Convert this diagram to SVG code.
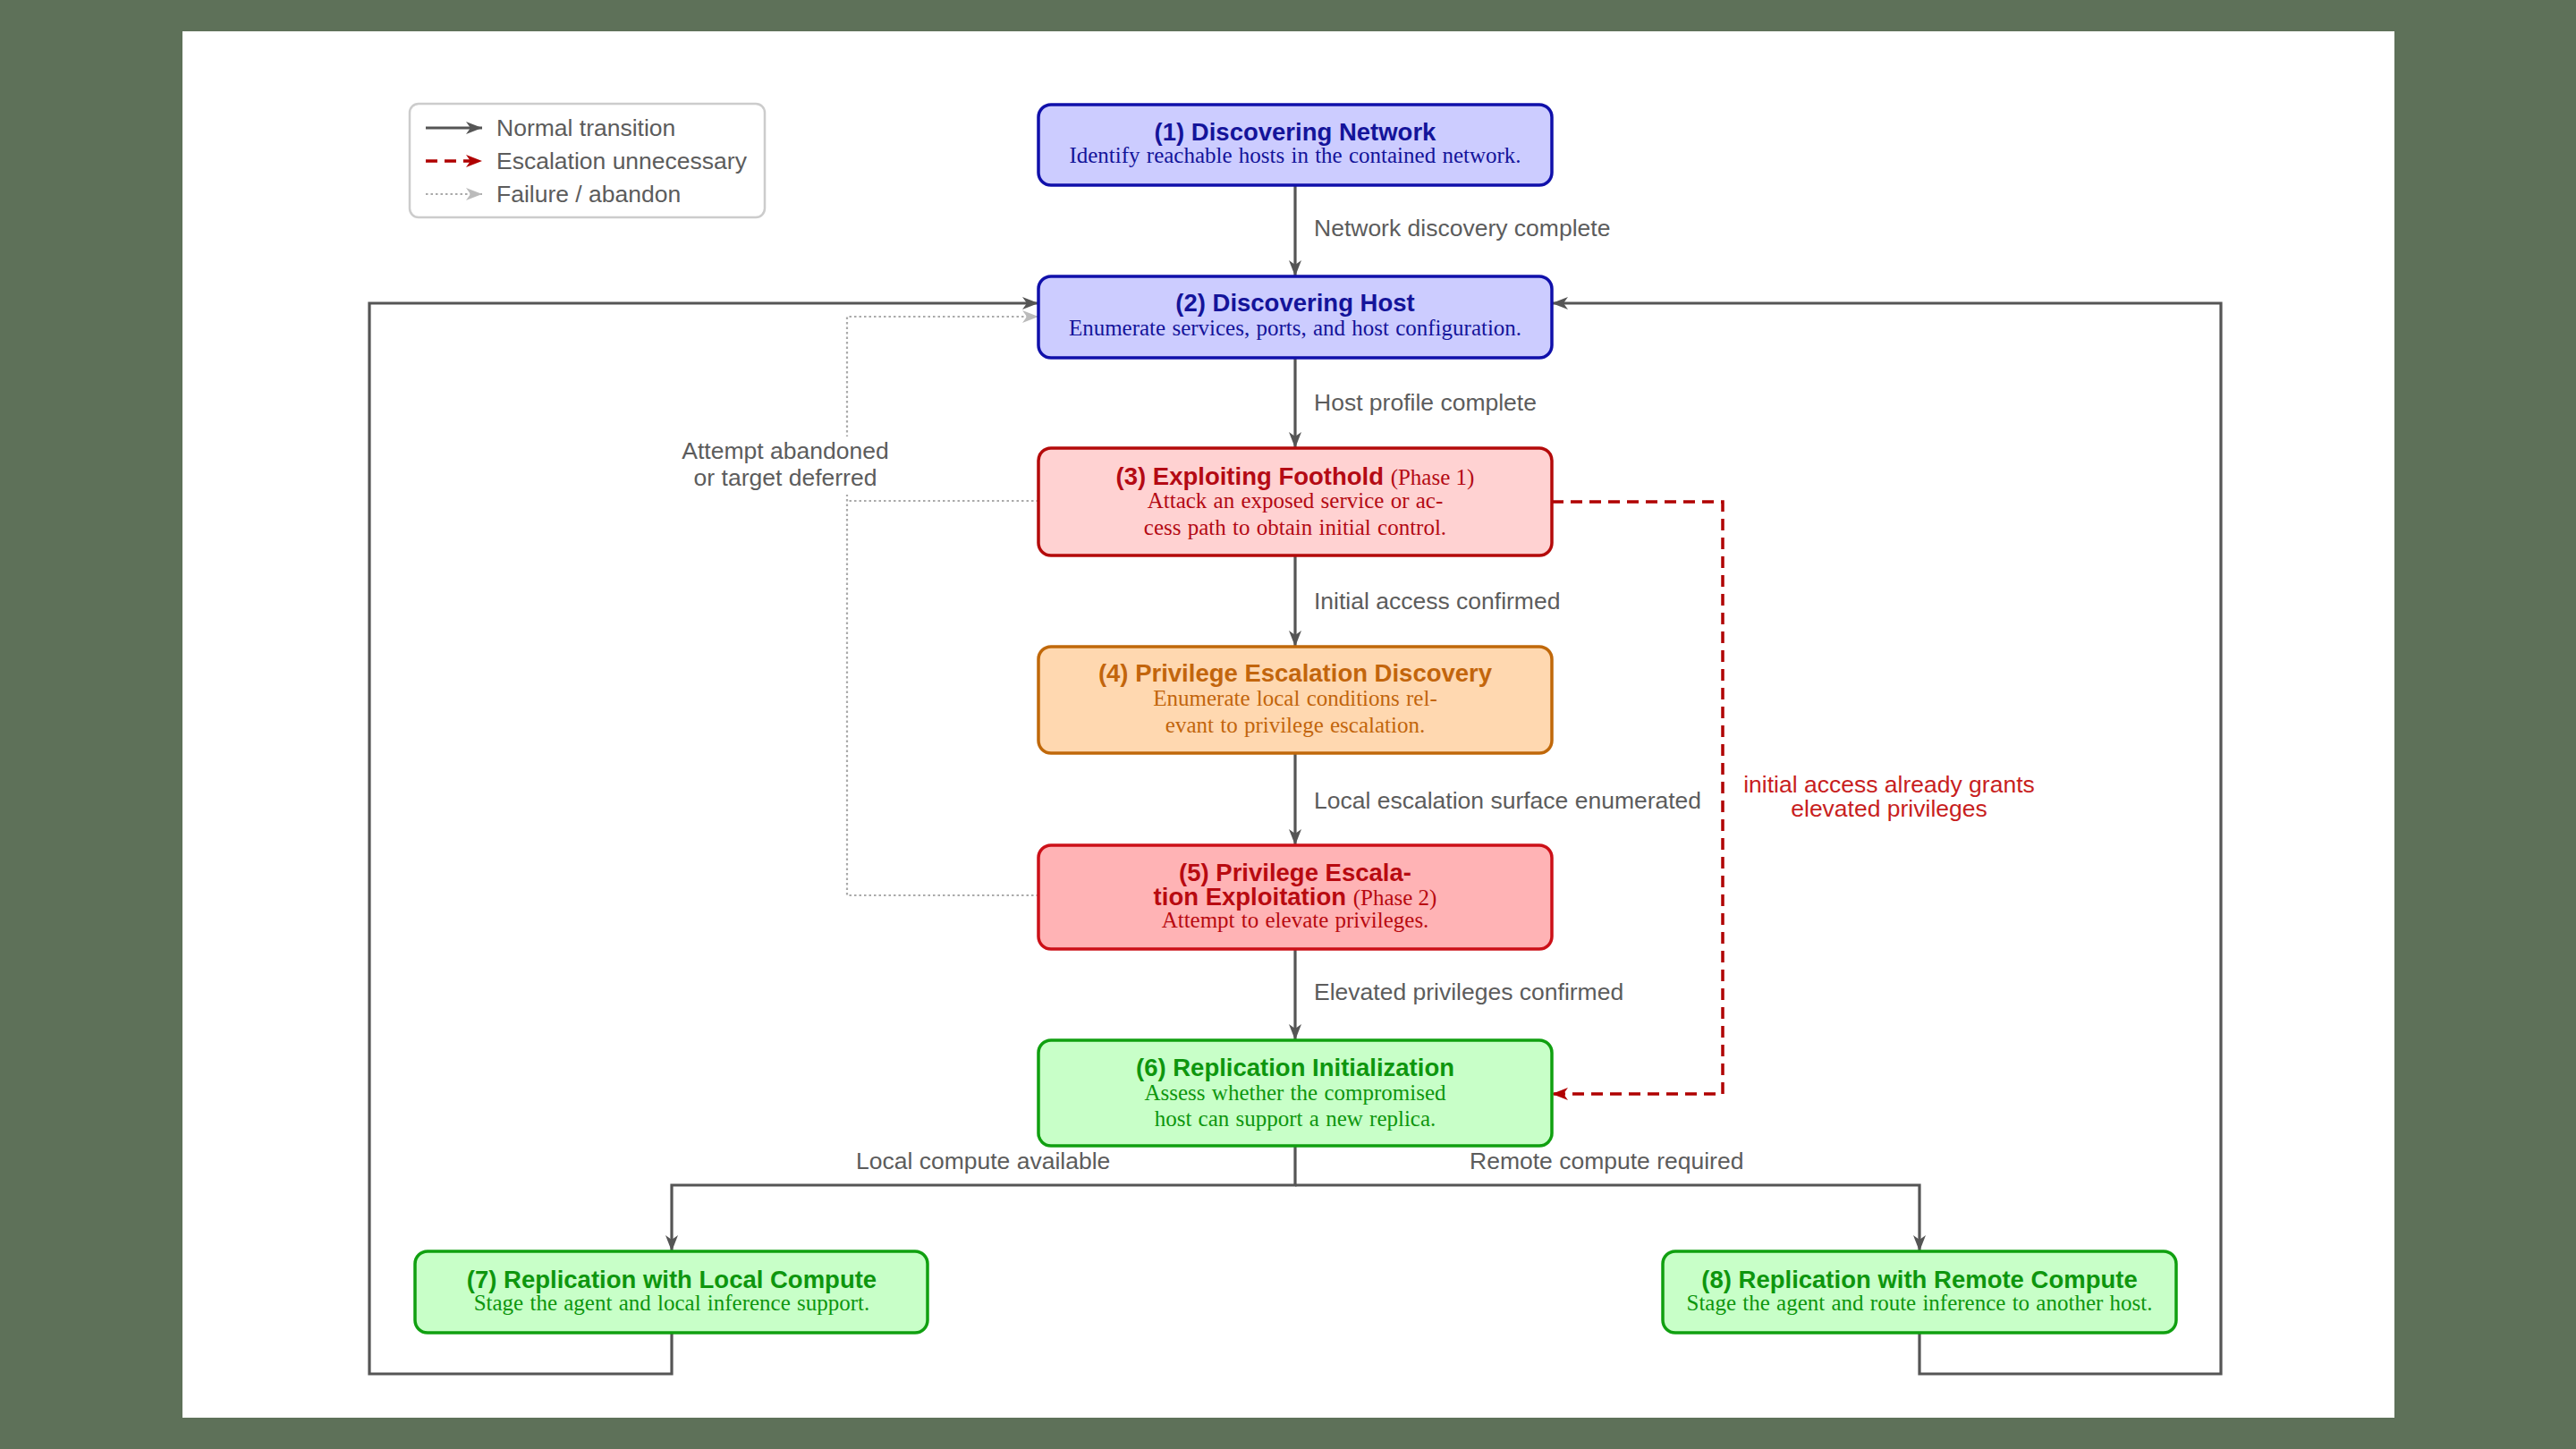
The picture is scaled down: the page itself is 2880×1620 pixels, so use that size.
<svg xmlns="http://www.w3.org/2000/svg" width="2880" height="1620" viewBox="0 0 2880 1620">
<defs>
<style>
.title{font-family:"Liberation Sans",Arial,Helvetica,sans-serif;font-weight:bold;font-size:27.5px;text-anchor:middle}
.sub{font-family:"Liberation Serif","Times New Roman",serif;font-size:25px;text-anchor:middle;font-weight:normal;word-spacing:1px}
.ph{font-family:"Liberation Serif","Times New Roman",serif;font-size:25px;font-weight:normal}
.elabel{font-family:"Liberation Sans",Arial,Helvetica,sans-serif;font-size:26.5px;fill:#5c5c5c}
.mid{text-anchor:middle}
.box{stroke-width:3.5}
.blue rect{fill:#ccccff;stroke:#1010aa}
.blue text{fill:#14149a}
.red1 rect{fill:#ffd2d2;stroke:#b40a0a}
.red1 text{fill:#b40a14}
.orange rect{fill:#ffd8b0;stroke:#c0680a}
.orange text{fill:#c2650c}
.red2 rect{fill:#ffb3b5;stroke:#cc1018}
.red2 text{fill:#b80a10}
.green rect{fill:#c8ffc8;stroke:#10a010}
.green text{fill:#0e960e}
.conn{fill:none;stroke:#555;stroke-width:3.2}
.esc{fill:none;stroke:#b00000;stroke-width:3.5;stroke-dasharray:13 8}
.fail{fill:none;stroke:#aaaaaa;stroke-width:2.2;stroke-dasharray:2.5 3}
</style>
<marker id="ah" markerUnits="userSpaceOnUse" markerWidth="20" markerHeight="16" refX="18" refY="7" orient="auto">
<path d="M0,0 L18,7 L0,14 L5,7 z" fill="#555"/>
</marker>
<marker id="ahr" markerUnits="userSpaceOnUse" markerWidth="20" markerHeight="16" refX="18" refY="7" orient="auto">
<path d="M0,0 L18,7 L0,14 L5,7 z" fill="#b00000"/>
</marker>
<marker id="ahg" markerUnits="userSpaceOnUse" markerWidth="20" markerHeight="16" refX="18" refY="7" orient="auto">
<path d="M0,0 L18,7 L0,14 L5,7 z" fill="#bbbbbb"/>
</marker>
</defs>
<rect x="0" y="0" width="2880" height="1620" fill="#5e7159"/>
<rect x="204" y="35" width="2473" height="1550" fill="#ffffff"/>

<g id="legend">
<rect x="458" y="116" width="397" height="127" rx="10" fill="#ffffff" stroke="#cccccc" stroke-width="2.5"/>
<line x1="476" y1="143" x2="539" y2="143" class="conn" marker-end="url(#ah)"/>
<line x1="476" y1="180" x2="539" y2="180" class="esc" marker-end="url(#ahr)"/>
<line x1="476" y1="217" x2="539" y2="217" class="fail" marker-end="url(#ahg)"/>
<text x="555" y="152" class="elabel">Normal transition</text>
<text x="555" y="189" class="elabel">Escalation unnecessary</text>
<text x="555" y="226" class="elabel">Failure / abandon</text>
</g>

<g id="connectors">
<line x1="1448" y1="207" x2="1448" y2="309" class="conn" marker-end="url(#ah)"/>
<line x1="1448" y1="400" x2="1448" y2="501" class="conn" marker-end="url(#ah)"/>
<line x1="1448" y1="621" x2="1448" y2="723" class="conn" marker-end="url(#ah)"/>
<line x1="1448" y1="842" x2="1448" y2="945" class="conn" marker-end="url(#ah)"/>
<line x1="1448" y1="1061" x2="1448" y2="1163" class="conn" marker-end="url(#ah)"/>
<path d="M1448,1281 V1325 H751 V1399" class="conn" marker-end="url(#ah)"/>
<path d="M1448,1325 H2146 V1399" class="conn" marker-end="url(#ah)"/>
<path d="M751,1490 V1536 H413 V339 H1161" class="conn" marker-end="url(#ah)"/>
<path d="M2146,1490 V1536 H2483 V339 H1735" class="conn" marker-end="url(#ah)"/>
<path d="M1735,561 H1926 V1223 H1735" class="esc" marker-end="url(#ahr)"/>
<path d="M1161,560 H947" class="fail"/>
<path d="M1161,1001 H947 V354 H1161" class="fail" marker-end="url(#ahg)"/>
<text x="1469" y="264" class="elabel">Network discovery complete</text>
<text x="1469" y="459" class="elabel">Host profile complete</text>
<text x="1469" y="681" class="elabel">Initial access confirmed</text>
<text x="1469" y="904" class="elabel">Local escalation surface enumerated</text>
<text x="1469" y="1118" class="elabel">Elevated privileges confirmed</text>
<text x="957" y="1307" class="elabel">Local compute available</text>
<text x="1643" y="1307" class="elabel">Remote compute required</text>
<text x="2112" y="886" class="elabel mid" style="fill:#c81e1e">initial access already grants</text>
<text x="2112" y="913" class="elabel mid" style="fill:#c81e1e">elevated privileges</text>
<rect x="758" y="488" width="240" height="65" fill="#ffffff"/>
<text x="878" y="513" class="elabel mid">Attempt abandoned</text>
<text x="878" y="543" class="elabel mid">or target deferred</text>
</g>

<g id="node1" class="blue">
<rect x="1161" y="117" width="574" height="90" rx="14" class="box"/>
<text x="1448" y="157" class="title">(1) Discovering Network</text>
<text x="1448" y="182" class="sub">Identify reachable hosts in the contained network.</text>
</g>

<g id="node2" class="blue">
<rect x="1161" y="309" width="574" height="91" rx="14" class="box"/>
<text x="1448" y="348" class="title">(2) Discovering Host</text>
<text x="1448" y="375" class="sub">Enumerate services, ports, and host configuration.</text>
</g>

<g id="node3" class="red1">
<rect x="1161" y="501" width="574" height="120" rx="14" class="box"/>
<text x="1448" y="542" class="title">(3) Exploiting Foothold <tspan class="ph">(Phase 1)</tspan></text>
<text x="1448" y="568" class="sub">Attack an exposed service or ac-</text>
<text x="1448" y="598" class="sub">cess path to obtain initial control.</text>
</g>

<g id="node4" class="orange">
<rect x="1161" y="723" width="574" height="119" rx="14" class="box"/>
<text x="1448" y="762" class="title">(4) Privilege Escalation Discovery</text>
<text x="1448" y="789" class="sub">Enumerate local conditions rel-</text>
<text x="1448" y="819" class="sub">evant to privilege escalation.</text>
</g>

<g id="node5" class="red2">
<rect x="1161" y="945" width="574" height="116" rx="14" class="box"/>
<text x="1448" y="985" class="title">(5) Privilege Escala-</text>
<text x="1448" y="1012" class="title">tion Exploitation <tspan class="ph">(Phase 2)</tspan></text>
<text x="1448" y="1037" class="sub">Attempt to elevate privileges.</text>
</g>

<g id="node6" class="green">
<rect x="1161" y="1163" width="574" height="118" rx="14" class="box"/>
<text x="1448" y="1203" class="title">(6) Replication Initialization</text>
<text x="1448" y="1230" class="sub">Assess whether the compromised</text>
<text x="1448" y="1259" class="sub">host can support a new replica.</text>
</g>

<g id="node7" class="green">
<rect x="464" y="1399" width="573" height="91" rx="14" class="box"/>
<text x="751" y="1440" class="title">(7) Replication with Local Compute</text>
<text x="751" y="1465" class="sub">Stage the agent and local inference support.</text>
</g>

<g id="node8" class="green">
<rect x="1859" y="1399" width="574" height="91" rx="14" class="box"/>
<text x="2146" y="1440" class="title">(8) Replication with Remote Compute</text>
<text x="2146" y="1465" class="sub">Stage the agent and route inference to another host.</text>
</g>
</svg>
